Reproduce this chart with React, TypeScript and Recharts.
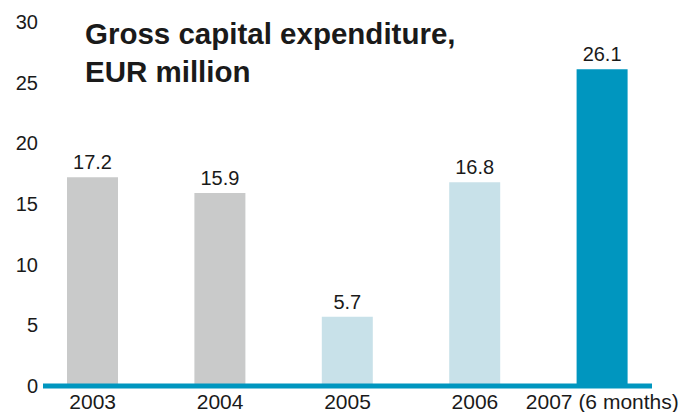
import { BarChart, Bar, XAxis, YAxis, Cell, LabelList } from "recharts"

const years = ["2003", "2004", "2005", "2006", "2007 (6 months)"]
const capex = [17.2, 15.9, 5.7, 16.8, 26.1]
const barColors = ["#c9caca", "#c9caca", "#c8e1e9", "#c8e1e9", "#0096bf"]
const yTicks = [0, 5, 10, 15, 20, 25, 30]

const data = years.map((year, i) => ({ year, value: capex[i] }))

const font = "'Liberation Sans', Arial, sans-serif"

export default function App() {
  return (
    <div style={{ position: "absolute", left: 0, top: 0, width: 700, height: 412, fontFamily: font }}>
      <div
        style={{
          position: "absolute",
          left: 85,
          top: 15,
          fontSize: 29.5,
          fontWeight: "bold",
          lineHeight: "38px",
          color: "#1a1a1a",
        }}
      >
        Gross capital expenditure,
        <br />
        EUR million
      </div>
      <BarChart
        width={700}
        height={412}
        data={data}
        margin={{ top: 22, right: 48, left: 0, bottom: 0 }}
      >
        <XAxis
          dataKey="year"
          height={26}
          padding={{ left: -14, right: -14 }}
          axisLine={{ stroke: "#0096bf", strokeWidth: 5 }}
          tickLine={false}
          tickSize={0}
          tickMargin={8}
          tick={{ fill: "#1a1a1a", fontSize: 21, fontFamily: font }}
          interval={0}
        />
        <YAxis
          width={43}
          domain={[0, 30]}
          ticks={yTicks}
          axisLine={false}
          tickLine={false}
          tickSize={0}
          tickMargin={5}
          tick={{ fill: "#1a1a1a", fontSize: 20, fontFamily: font }}
        />
        <Bar dataKey="value" barSize={51} isAnimationActive={false}>
          {data.map((d, i) => (
            <Cell key={d.year} fill={barColors[i]} />
          ))}
          <LabelList
            dataKey="value"
            position="top"
            offset={8}
            style={{ fill: "#1a1a1a", fontSize: 20, fontFamily: font }}
          />
        </Bar>
      </BarChart>
    </div>
  )
}
